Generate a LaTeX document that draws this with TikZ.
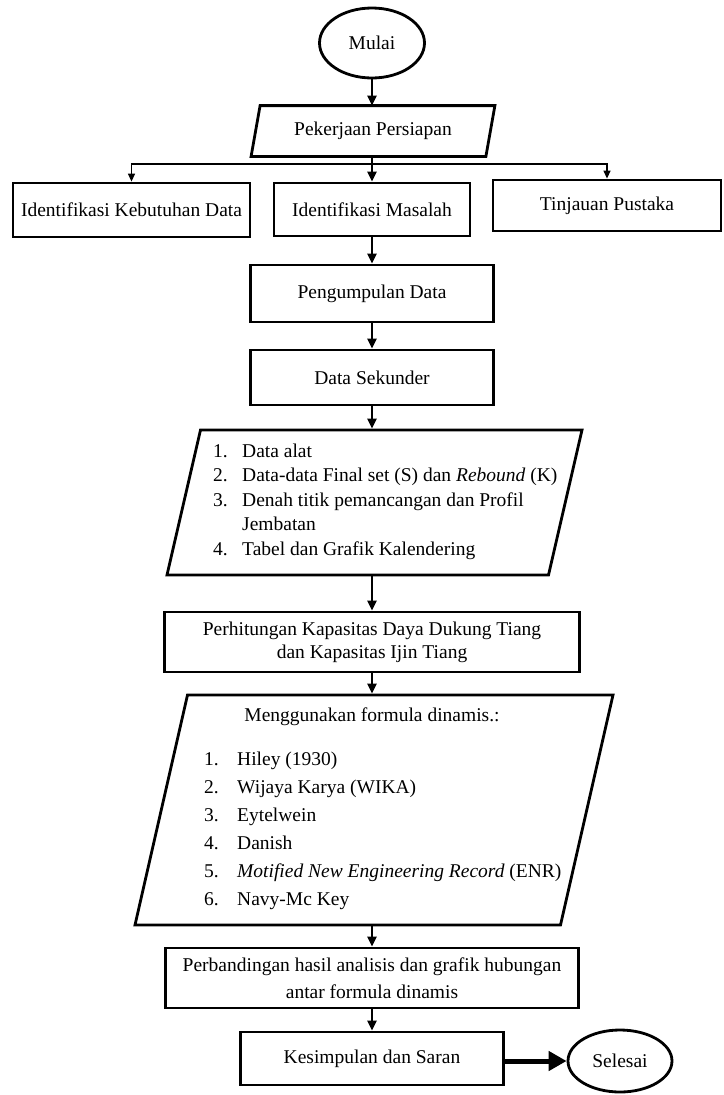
\documentclass[tikz,border=0pt]{standalone}
\usepackage{fontspec}
\setmainfont{Liberation Serif}
\usetikzlibrary{shapes.geometric,arrows.meta}
\begin{document}
\begin{tikzpicture}[x=1pt,y=-1pt,
  every node/.style={font=\fontsize{19.5}{24}\selectfont, inner sep=0pt},
  box/.style={draw, line width=2.8pt, rectangle, align=center},
  term/.style={draw, line width=2.8pt, ellipse},
  parabox/.style={rectangle, outer sep=1.4pt},
  paraline/.style={line width=2.8pt, line join=miter},
  arr/.style={line width=2.2pt, -{Triangle[length=10pt,width=9pt]}},
  thinarr/.style={line width=1.3pt, -{Triangle[length=8pt,width=7pt]}},
  bigarr/.style={line width=5pt, -{Triangle[length=18pt,width=19pt]}},
]
\fill[white] (0,0) rectangle (723,1095);
\useasboundingbox (0,0) rectangle (723,1095);

\node[term, minimum width=105pt, minimum height=70pt] (start) at (372,43) {Mulai};

\node[parabox, minimum width=241pt, minimum height=48pt] (prep) at (373,131) {Pekerjaan Persiapan};
\draw[paraline] ([xshift=9pt]prep.north west) -- (prep.north east)
   -- ([xshift=-9pt]prep.south east) -- (prep.south west) -- cycle;

\node[box, minimum width=237pt, minimum height=54pt] (kebutuhan) at (131.5,210) {Identifikasi Kebutuhan Data};
\node[box, minimum width=196pt, minimum height=53pt] (masalah) at (372,209.5) {Identifikasi Masalah};
\node[box, minimum width=228pt, minimum height=51pt] (tinjauan) at (607,205.5) {Tinjauan Pustaka};
\coordinate (split) at (372,164);

\node[box, minimum width=243pt, minimum height=57pt] (kumpul) at (372,293.5) {Pengumpulan Data};
\node[box, minimum width=243pt, minimum height=55pt] (sekunder) at (372,377.5) {Data Sekunder};

\node[parabox, outer sep=0pt, minimum width=415pt, minimum height=145pt] (datapar) at (374.5,502.5) {};
\draw[paraline] ([xshift=33.5pt]datapar.north west) -- (datapar.north east)
   -- ([xshift=-33.5pt]datapar.south east) -- (datapar.south west) -- cycle;
\node[anchor=base west, font=\fontsize{19.5}{24.5}\selectfont] (datatext) at (213,457)
  {\begin{tabular}[t]{@{}p{29pt}@{}l@{}}
   1. & Data alat\\
   2. & Data-data Final set (S) dan \textit{Rebound} (K)\\
   3. & Denah titik pemancangan dan Profil\\
      & Jembatan\\
   4. & Tabel dan Grafik Kalendering
   \end{tabular}};

\node[box, minimum width=415pt, minimum height=60pt, font=\fontsize{19.5}{23}\selectfont] (hitung) at (372,642)
  {Perhitungan Kapasitas Daya Dukung Tiang\\dan Kapasitas Ijin Tiang};

\node[parabox, outer sep=0pt, minimum width=478pt, minimum height=230pt] (formula) at (374,810) {};
\draw[paraline] ([xshift=52.5pt]formula.north west) -- (formula.north east)
   -- ([xshift=-52.5pt]formula.south east) -- (formula.south west) -- cycle;
\node (formhead) at (372,717) {Menggunakan formula dinamis.:};
\node[anchor=base west, font=\fontsize{19.5}{28}\selectfont] (formlist) at (204,765)
  {\begin{tabular}[t]{@{}p{33pt}@{}l@{}}
   1. & Hiley (1930)\\
   2. & Wijaya Karya (WIKA)\\
   3. & Eytelwein\\
   4. & Danish\\
   5. & \textit{Motified New Engineering Record} (ENR)\\
   6. & Navy-Mc Key
   \end{tabular}};

\node[box, minimum width=413pt, minimum height=60pt, font=\fontsize{19.5}{27}\selectfont] (banding) at (372,978)
  {Perbandingan hasil analisis dan grafik hubungan\\antar formula dinamis};
\node[box, minimum width=263pt, minimum height=53pt] (simpul) at (372,1058.5) {Kesimpulan dan Saran};
\node[term, minimum width=104pt, minimum height=62pt] (selesai) at (620,1061) {Selesai};

\draw[arr] (start.south) -- (start.south |- prep.north);
\draw[arr] (prep.south -| masalah.north) -- (masalah.north);
\draw[thinarr] (split) -| (kebutuhan.north);
\draw[thinarr] (split) -| (tinjauan.north);
\draw[arr] (masalah.south) -- (kumpul.north);
\draw[arr] (kumpul.south) -- (sekunder.north);
\draw[arr] (sekunder.south) -- ([yshift=1.4pt]sekunder.south |- datapar.north);
\draw[arr] ([yshift=-1.4pt]datapar.south -| hitung.north) -- (hitung.north);
\draw[arr] (hitung.south) -- ([yshift=1.4pt]hitung.south |- formula.north);
\draw[arr] ([yshift=-1.4pt]formula.south -| banding.north) -- (banding.north);
\draw[arr] (banding.south) -- (simpul.north);
\draw[bigarr] (simpul.east |- selesai.west) -- (selesai.west);
\end{tikzpicture}
\end{document}
